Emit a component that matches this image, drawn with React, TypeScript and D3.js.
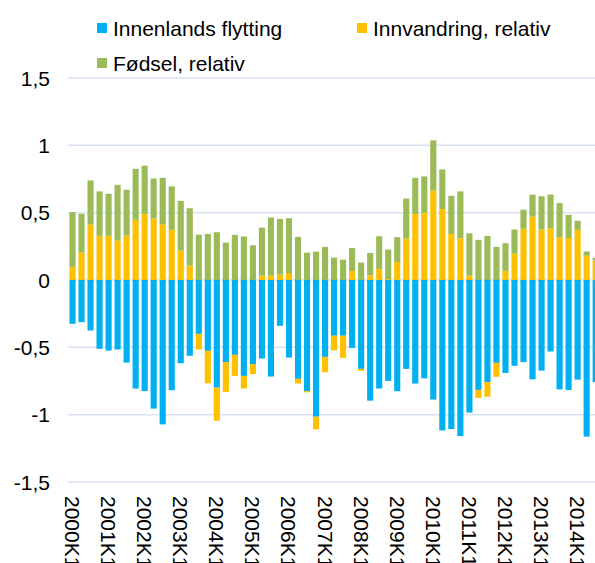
import React from 'react';
import * as d3 from 'd3';

const years = [2000, 2001, 2002, 2003, 2004, 2005, 2006, 2007, 2008, 2009, 2010, 2011, 2012, 2013, 2014];
// quarters visible in the picture: 2000K1 .. 2014K3
const quarters = years.flatMap(y => ['K1', 'K2', 'K3', 'K4'].map(k => `${y}${k}`)).slice(0, 59);

const innenlands = [
  -0.325, -0.313, -0.375, -0.511, -0.524, -0.516, -0.613, -0.806, -0.824, -0.955,
  -1.072, -0.819, -0.618, -0.563, -0.4, -0.526, -0.799, -0.61, -0.556, -0.712,
  -0.625, -0.583, -0.717, -0.34, -0.576, -0.734, -0.824, -1.015, -0.571, -0.414,
  -0.414, -0.504, -0.66, -0.896, -0.806, -0.749, -0.826, -0.66, -0.769, -0.73,
  -0.888, -1.117, -1.107, -1.159, -0.985, -0.816, -0.757, -0.615, -0.69, -0.637,
  -0.61, -0.738, -0.673, -0.531, -0.812, -0.817, -0.74, -1.163, -0.759,
];

const innvandring = [
  0.097, 0.206, 0.412, 0.328, 0.328, 0.293, 0.33, 0.447, 0.491, 0.457,
  0.414, 0.372, 0.218, 0.107, -0.117, -0.241, -0.246, -0.221, -0.156, -0.094,
  -0.074, 0.032, 0.032, 0.04, 0.052, -0.035, -0.01, -0.094, -0.114, -0.109,
  -0.164, 0.067, -0.015, 0.035, 0.082, 0.007, 0.134, 0.308, 0.491, 0.499,
  0.665, 0.526, 0.342, 0.31, 0.032, -0.06, -0.109, -0.104, 0.068, 0.195,
  0.381, 0.47, 0.375, 0.384, 0.318, 0.312, 0.372, 0.18, 0.145,
];

const fodsel = [
  0.407, 0.285, 0.327, 0.33, 0.312, 0.414, 0.34, 0.379, 0.358, 0.297,
  0.345, 0.323, 0.37, 0.426, 0.337, 0.342, 0.355, 0.278, 0.335, 0.323,
  0.258, 0.357, 0.432, 0.414, 0.407, 0.32, 0.203, 0.211, 0.246, 0.166,
  0.151, 0.171, 0.129, 0.166, 0.243, 0.219, 0.184, 0.297, 0.268, 0.27,
  0.372, 0.295, 0.283, 0.348, 0.315, 0.298, 0.328, 0.246, 0.205, 0.18,
  0.141, 0.164, 0.247, 0.25, 0.254, 0.172, 0.068, 0.032, 0.02,
];

const yTicks = [1.5, 1, 0.5, 0, -0.5, -1, -1.5];

const series = [
  { key: 'innenlands', label: 'Innenlands flytting', color: '#00B0F0' },
  { key: 'innvandring', label: 'Innvandring, relativ', color: '#FFC000' },
  { key: 'fodsel', label: 'Fødsel, relativ', color: '#9BBB59' },
];

const width = 595;
const height = 563;
const font = '"Liberation Sans", Arial, sans-serif';

export default function App() {
  const rows = quarters.map((q, i) => ({
    q,
    innenlands: innenlands[i],
    innvandring: innvandring[i],
    fodsel: fodsel[i],
  }));

  const stacked = d3
    .stack<any>()
    .keys(series.map(s => s.key))
    .offset(d3.stackOffsetDiverging)(rows);

  const step = 9.02;
  const x = d3
    .scaleBand()
    .domain(quarters)
    .range([68, 68 + quarters.length * step])
    .paddingInner(0.32)
    .paddingOuter(0.16);

  const y = d3.scaleLinear().domain([-1.5, 1.5]).range([482, 78]);

  const fmt = (v: number) => String(v).replace('.', ',');

  const legend = [
    { s: series[0], x: 97, y: 28 },
    { s: series[1], x: 357, y: 28 },
    { s: series[2], x: 97, y: 63 },
  ];

  return (
    <svg
      width={width}
      height={height}
      style={{ position: 'absolute', left: 0, top: 0, background: '#fff' }}
      fontFamily={font}
    >
      {/* gridlines */}
      {yTicks.map(t => (
        <line key={t} x1={68} x2={width} y1={y(t)} y2={y(t)} stroke="#D9E2F1" strokeWidth={1.5} />
      ))}

      {/* y labels */}
      {yTicks.map(t => (
        <text key={t} x={50} y={y(t)} textAnchor="end" dominantBaseline="central" fontSize={21} fill="#000">
          {fmt(t)}
        </text>
      ))}

      {/* bars */}
      {stacked.map((layer, li) => (
        <g key={layer.key} fill={series[li].color}>
          {layer.map((d, i) => {
            const top = y(Math.max(d[0], d[1]));
            const bot = y(Math.min(d[0], d[1]));
            return (
              <rect
                key={i}
                x={x(quarters[i])}
                y={top}
                width={x.bandwidth()}
                height={Math.max(0, bot - top)}
              />
            );
          })}
        </g>
      ))}

      {/* x labels */}
      {quarters.map((q, i) =>
        i % 4 === 0 ? (
          <text
            key={q}
            transform={`translate(${(x(q) ?? 0) + x.bandwidth() / 2},496) rotate(90)`}
            dominantBaseline="central"
            fontSize={21}
            fill="#000"
          >
            {q}
          </text>
        ) : null
      )}

      {/* legend */}
      {legend.map(l => (
        <g key={l.s.key}>
          <rect x={l.x} y={l.y - 5} width={10} height={10} fill={l.s.color} />
          <text x={l.x + 16} y={l.y} dominantBaseline="central" fontSize={21} fill="#000">
            {l.s.label}
          </text>
        </g>
      ))}
    </svg>
  );
}
